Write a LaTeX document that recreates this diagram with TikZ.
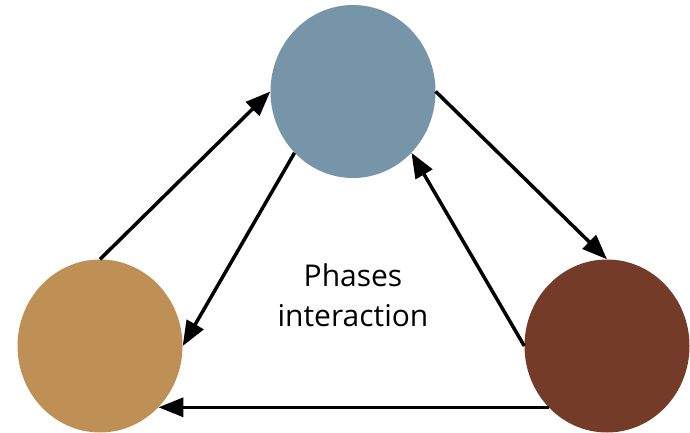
\documentclass[tikz,border=0pt]{standalone}
\usepackage{fontspec}
\setmainfont{Open Sans}
\usetikzlibrary{shapes.geometric,arrows.meta}
\definecolor{topc}{RGB}{119,149,168}
\definecolor{leftc}{RGB}{190,144,85}
\definecolor{rightc}{RGB}{116,59,41}
\tikzset{
  phase/.style={ellipse, minimum width=165pt, minimum height=173pt, inner sep=0pt, draw=none},
  link/.style={line width=3.5pt, -{Triangle[length=25pt,width=19pt]}},
}
\begin{document}
\begin{tikzpicture}[x=1pt,y=-1pt]
\useasboundingbox (0,0) rectangle (690,433);
\node[phase, fill=topc] (T) at (353,91.5) {};
\node[phase, fill=leftc] (L) at (100,346) {};
\node[phase, fill=rightc] (R) at (607,346) {};
\node[align=center, font=\fontsize{30}{40}\selectfont, text=black] (lbl) at (353,295) {Phases\\interaction};
\draw[link] (L.north) -- (T.west);
\draw[link] (T.south west) -- (L.east);
\draw[link] (T.east) -- (R.north);
\draw[link] (R.west) -- (T.south east);
\draw[link] (R.south west) -- (L.south east);
\end{tikzpicture}
\end{document}
